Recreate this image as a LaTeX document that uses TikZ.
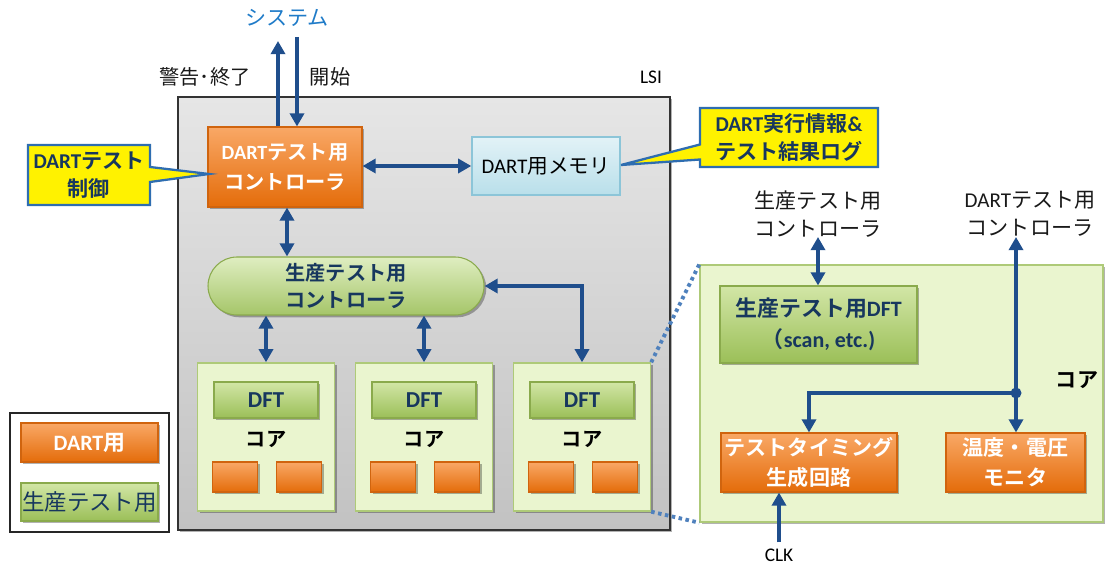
\documentclass[tikz,border=0pt]{standalone}
\usepackage{fontspec}
\setmainfont{Noto Sans CJK JP}[BoldFont={Noto Sans CJK JP Bold}]
\newfontfamily\lat{Carlito}
\usetikzlibrary{arrows.meta,shapes.callouts,shadows}

\definecolor{arrowblue}{HTML}{1F4E8C}
\definecolor{navy}{HTML}{17375E}
\definecolor{sysblue}{HTML}{1F7BC8}
\definecolor{orTop}{HTML}{F9A866}
\definecolor{orBot}{HTML}{E46C0A}
\definecolor{orLine}{HTML}{D0640E}
\definecolor{grTop}{HTML}{D2E6A6}
\definecolor{grBot}{HTML}{9BBF58}
\definecolor{grLine}{HTML}{8AAA4C}
\definecolor{coreFill}{HTML}{EAF5CF}
\definecolor{coreLine}{HTML}{AECA78}
\definecolor{memTop}{HTML}{E2F2F7}
\definecolor{memBot}{HTML}{B9DFEA}
\definecolor{memLine}{HTML}{8CC5D8}
\definecolor{callLine}{HTML}{2E6DB0}
\definecolor{lsiTop}{HTML}{E6E6E6}
\definecolor{lsiBot}{HTML}{C2C2C2}
\definecolor{dotblue}{HTML}{4F81BD}

\tikzset{
  sz/.style 2 args={minimum width={#1*0.02cm}, minimum height={#2*0.02cm}, inner sep=0pt},
  shade/.style={drop shadow={shadow xshift=1.3pt, shadow yshift=-1.3pt, opacity=0.3, fill=black}},
  obox/.style={shade, top color=orTop, bottom color=orBot, draw=orLine, line width=0.6pt,
    text=white, font=\fontsize{11.5}{17}\selectfont\bfseries, align=center},
  gbox/.style={shade, top color=grTop, bottom color=grBot, draw=grLine, line width=0.6pt,
    text=navy, font=\fontsize{11.5}{16.5}\selectfont\bfseries, align=center},
  corebox/.style={shade, fill=coreFill, draw=coreLine, line width=0.8pt},
  callbox/.style={rectangle callout, fill=yellow, draw=callLine, line width=1.3pt,
    text=navy, font=\fontsize{12}{15.5}\selectfont\bfseries, align=center,
    callout pointer width=0.3cm},
  lbl/.style={font=\fontsize{11.5}{16}\selectfont, align=center, text=black!90},
  conn/.style={draw=arrowblue, line width=2pt, -{Triangle[length=7.5pt,width=8pt]}},
  dbl/.style={draw=arrowblue, line width=2pt, {Triangle[length=7.5pt,width=8pt]}-{Triangle[length=7.5pt,width=8pt]}},
  dots/.style={draw=dotblue, line width=2.2pt, dash pattern=on 2pt off 2pt}
}

\begin{document}
\begin{tikzpicture}[x=0.02cm,y=-0.02cm]
\useasboundingbox (0,0) rectangle (1105,567);

% LSI chip outline
\node[sz={492}{433}, shade, top color=lsiTop, bottom color=lsiBot, draw=black!80, line width=1pt] (lsi) at (424,313.5) {};
\node[font=\fontsize{11}{13}\selectfont\lat] (lsilbl) at (651,77) {LSI};

% external system and its signals
\node[font=\fontsize{12}{14}\selectfont, text=sysblue] (sys) at (287,18) {システム};
\node[lbl] (warn) at (205,77) {警告･終了};
\node[lbl] (start) at (330,77) {開始};
\coordinate (wout) at (278,41);
\coordinate (sin) at (297,37);

% DART test controller and memory
\node[obox, sz={154}{80}] (dc) at (285,167) {{\lat\bfseries DART}テスト用\\コントローラ};
\node[sz={148}{58}, top color=memTop, bottom color=memBot, draw=memLine, line width=0.8pt,
  font=\fontsize{11.8}{14}\selectfont] (mem) at (546,166) {{\lat DART}用メモリ};

% production test controller
\node[gbox, sz={276}{58}, rounded corners=0.58cm, top color=grTop!70!white, bottom color=grBot!90!white,
  font=\fontsize{11.5}{15.5}\selectfont\bfseries] (pc) at (346,286) {生産テスト用\\コントローラ};

% cores
\foreach \n/\cx in {1/266,2/424,3/582}{
  \node[corebox, sz={137}{148}] (core\n) at (\cx,437) {};
  \node[gbox, sz={104}{36}, font=\fontsize{13}{14}\selectfont\lat\bfseries] (dft\n) at (\cx,400) {DFT};
  \node[font=\fontsize{11.5}{13}\selectfont\bfseries] (clbl\n) at (\cx,439) {コア};
  \node[obox, sz={45}{30}] (sqa\n) at ({\cx-31},477) {};
  \node[obox, sz={45}{30}] (sqb\n) at ({\cx+33},477) {};
}

% legend
\node[sz={159}{119}, draw=black!85, line width=1pt, fill=white] (legend) at (89.5,472.5) {};
\node[obox, sz={137}{39}, font=\fontsize{12.5}{14}\selectfont\lat\bfseries] (legdart) at (89.5,442.5) {DART{\normalfont\bfseries 用}};
\node[gbox, sz={137}{38}, font=\fontsize{12.8}{14}\selectfont] (legprod) at (89.5,502) {生産テスト用};

% callouts
\node[callbox, sz={122}{60}, callout absolute pointer={(209,174)}] (cl) at (89,175) {{\lat\bfseries DART}テスト\\制御};
\node[callbox, sz={178}{59}, callout absolute pointer={(621,165)}] (cr) at (789,137.5) {{\lat\bfseries DART}実行情報{\lat\bfseries\&}\\テスト結果ログ};

% magnified core
\node[corebox, sz={403}{257}] (rc) at (901.5,393.5) {};
\node[font=\fontsize{12}{14}\selectfont\bfseries] (rclbl) at (1077,380) {コア};
\node[gbox, sz={197}{77}, font=\fontsize{12.5}{18}\selectfont\bfseries] (pdft) at (818.5,324.5) {生産テスト用{\lat\bfseries DFT}\\（{\lat\bfseries scan, etc.)}};
\node[obox, sz={176}{59}, font=\fontsize{12}{17}\selectfont\bfseries] (tg) at (809,462.5) {テストタイミング\\生成回路};
\node[obox, sz={139}{59}, font=\fontsize{12}{17}\selectfont\bfseries] (mon) at (1015.5,462.5) {温度・電圧\\モニタ};
\node[lbl, font=\fontsize{12}{16}\selectfont] (plbl) at (818,214) {生産テスト用\\コントローラ};
\node[lbl, font=\fontsize{12}{16}\selectfont] (dlbl) at (1030,214) {{\lat DART}テスト用\\コントローラ};
\node[font=\fontsize{11}{13}\selectfont\lat] (clk) at (779,555) {CLK};
\coordinate (j) at (1016,393);
\coordinate (dup) at (1016,237);
\coordinate (pup) at (818,237);

% magnification guides
\draw[dots] (core3.north east) -- (rc.north west);
\draw[dots] (core3.south east) -- (rc.south west);

% connectors
\draw[conn] (dc.north -| wout) -- (wout);
\draw[conn] (sin) -- (dc.north -| sin);
\draw[dbl] (dc.east |- mem.west) -- (mem.west);
\draw[dbl] (dc.south -| 287,0) -- (pc.north -| 287,0);
\draw[dbl] (pc.south -| core1.north) -- (core1.north);
\draw[dbl] (pc.south -| core2.north) -- (core2.north);
\draw[dbl] (pc.east) -| (core3.north);
\draw[dbl] (pup) -- (pdft.north -| pup);
\draw[conn] (j) -- (dup);
\draw[conn] (j) -- (mon.north -| j);
\draw[conn] (j) -| (tg.north);
\fill[arrowblue] (j) circle (0.11cm);
\draw[conn] (clk.north) -- (clk.north |- tg.south);
\end{tikzpicture}
\end{document}
